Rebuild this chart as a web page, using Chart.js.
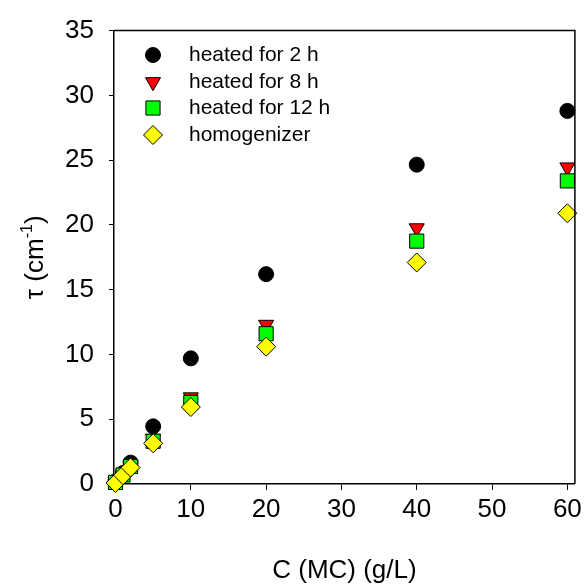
<!DOCTYPE html>
<html>
<head>
<meta charset="utf-8">
<script src="https://cdn.jsdelivr.net/npm/chart.js@4"></script>
<style>
html,body{margin:0;padding:0;background:#fff;}
#wrap{width:586px;height:586px;}
</style>
</head>
<body>
<div id="wrap"><canvas id="c" width="586" height="586"></canvas></div>
<script>
const concentrations = [0, 1, 2, 5, 10, 20, 40, 60];
const heated2h  = [0.2, 0.85, 1.65, 4.45, 9.7, 16.2, 24.65, 28.8];
const heated8h  = [0.15, 0.75, 1.45, 3.5, 6.7, 12.3, 19.75, 24.45];
const heated12h = [0.12, 0.7, 1.35, 3.3, 6.3, 11.6, 18.75, 23.4];
const homogenizer = [0.08, 0.68, 1.27, 3.14, 5.94, 10.6, 17.1, 20.9];
const seriesNames = ['heated for 2 h', 'heated for 8 h', 'heated for 12 h', 'homogenizer'];
const xTicks = [0, 10, 20, 30, 40, 50, 60];
const yTicks = [0, 5, 10, 15, 20, 25, 30, 35];

const FONT = '"Liberation Sans", Arial, sans-serif';
const pts = ys => concentrations.map((x, i) => ({x: x, y: ys[i]}));

const styles = [
  {pointStyle: 'circle', radius: 7.5, fill: '#000000', rotation: 0},
  {pointStyle: 'triangle', radius: 8.7, fill: '#ff0000', rotation: 180},
  {pointStyle: 'rect', radius: 10, fill: '#00ff00', rotation: 0},
  {pointStyle: 'rectRot', radius: 9.5, fill: '#ffff00', rotation: 0}
];
const values = [heated2h, heated8h, heated12h, homogenizer];

const datasets = values.map((v, i) => ({
  label: seriesNames[i],
  data: pts(v),
  pointStyle: styles[i].pointStyle,
  pointRadius: styles[i].radius,
  pointHoverRadius: styles[i].radius,
  pointRotation: styles[i].rotation,
  backgroundColor: styles[i].fill,
  borderColor: '#000000',
  borderWidth: 1,
  showLine: false,
  clip: false,
  order: 4 - i
}));

const framePlugin = {
  id: 'frame',
  afterDatasetsDraw(chart) {
    const {ctx, chartArea: a} = chart;
    ctx.save();
    ctx.strokeStyle = '#000';
    ctx.lineWidth = 1.5;
    ctx.beginPath();
    ctx.moveTo(a.left, a.top);
    ctx.lineTo(a.right, a.top);
    ctx.lineTo(a.right, a.bottom);
    ctx.stroke();
    ctx.restore();
  }
};

function drawMarker(ctx, st, x, y) {
  ctx.save();
  ctx.fillStyle = st.fill;
  ctx.strokeStyle = '#000';
  ctx.lineWidth = 1;
  if (Chart.helpers && Chart.helpers.drawPoint) {
    Chart.helpers.drawPoint(ctx, {pointStyle: st.pointStyle, rotation: st.rotation, radius: st.radius, borderWidth: 1}, x, y);
  }
  ctx.restore();
}

const legendPlugin = {
  id: 'customLegend',
  afterDraw(chart) {
    const ctx = chart.ctx;
    const rows = [55, 82, 108, 135];
    ctx.save();
    ctx.font = '21px ' + FONT;
    ctx.fillStyle = '#000';
    ctx.textBaseline = 'middle';
    ctx.textAlign = 'left';
    rows.forEach((y, i) => {
      drawMarker(ctx, styles[i], 153, y);
      ctx.fillStyle = '#000';
      ctx.fillText(seriesNames[i], 189, y);
    });
    ctx.restore();
  }
};

const titlesPlugin = {
  id: 'titles',
  afterDraw(chart) {
    const ctx = chart.ctx;
    const a = chart.chartArea;
    ctx.save();
    ctx.fillStyle = '#000';
    ctx.font = '26px ' + FONT;
    ctx.textAlign = 'center';
    ctx.textBaseline = 'alphabetic';
    ctx.fillText('C (MC) (g/L)', (a.left + a.right) / 2, 578);
    ctx.translate(43, (a.top + a.bottom) / 2);
    ctx.rotate(-Math.PI / 2);
    const p1 = '\u03C4 (cm', sup = '-1', p2 = ')';
    ctx.font = '26px ' + FONT;
    const w1 = ctx.measureText(p1).width;
    const w3 = ctx.measureText(p2).width;
    ctx.font = '16px ' + FONT;
    const w2 = ctx.measureText(sup).width;
    const total = w1 + w2 + w3;
    let x0 = -total / 2;
    ctx.textAlign = 'left';
    ctx.font = '26px ' + FONT;
    ctx.fillText(p1, x0, 0);
    ctx.font = '16px ' + FONT;
    ctx.fillText(sup, x0 + w1, -11);
    ctx.font = '26px ' + FONT;
    ctx.fillText(p2, x0 + w1 + w2, 0);
    ctx.restore();
  }
};

new Chart(document.getElementById('c'), {
  type: 'scatter',
  data: {datasets: datasets},
  options: {
    responsive: false,
    animation: false,
    devicePixelRatio: 1,
    layout: {padding: {top: 24, right: 11, left: 0, bottom: 0}},
    plugins: {legend: {display: false}, tooltip: {enabled: false}},
    scales: {
      x: {
        type: 'linear',
        min: -0.2,
        max: 61,
        afterFit(s) { s.height = 102; },
        afterBuildTicks(s) { s.ticks = xTicks.map(v => ({value: v})); },
        border: {display: true, color: '#000', width: 1.5},
        grid: {display: true, drawOnChartArea: false, drawTicks: true, tickLength: 6, color: '#000', lineWidth: 1},
        ticks: {color: '#000', font: {family: FONT, size: 26}, padding: 4, maxRotation: 0}
      },
      y: {
        type: 'linear',
        min: 0,
        max: 35,
        afterFit(s) { s.width = 114; },
        afterBuildTicks(s) { s.ticks = yTicks.map(v => ({value: v})); },
        border: {display: true, color: '#000', width: 1.5},
        grid: {display: true, drawOnChartArea: false, drawTicks: true, tickLength: 5, color: '#000', lineWidth: 1},
        ticks: {color: '#000', font: {family: FONT, size: 26}, padding: 15}
      }
    }
  },
  plugins: [framePlugin, legendPlugin, titlesPlugin]
});
</script>
</body>
</html>
